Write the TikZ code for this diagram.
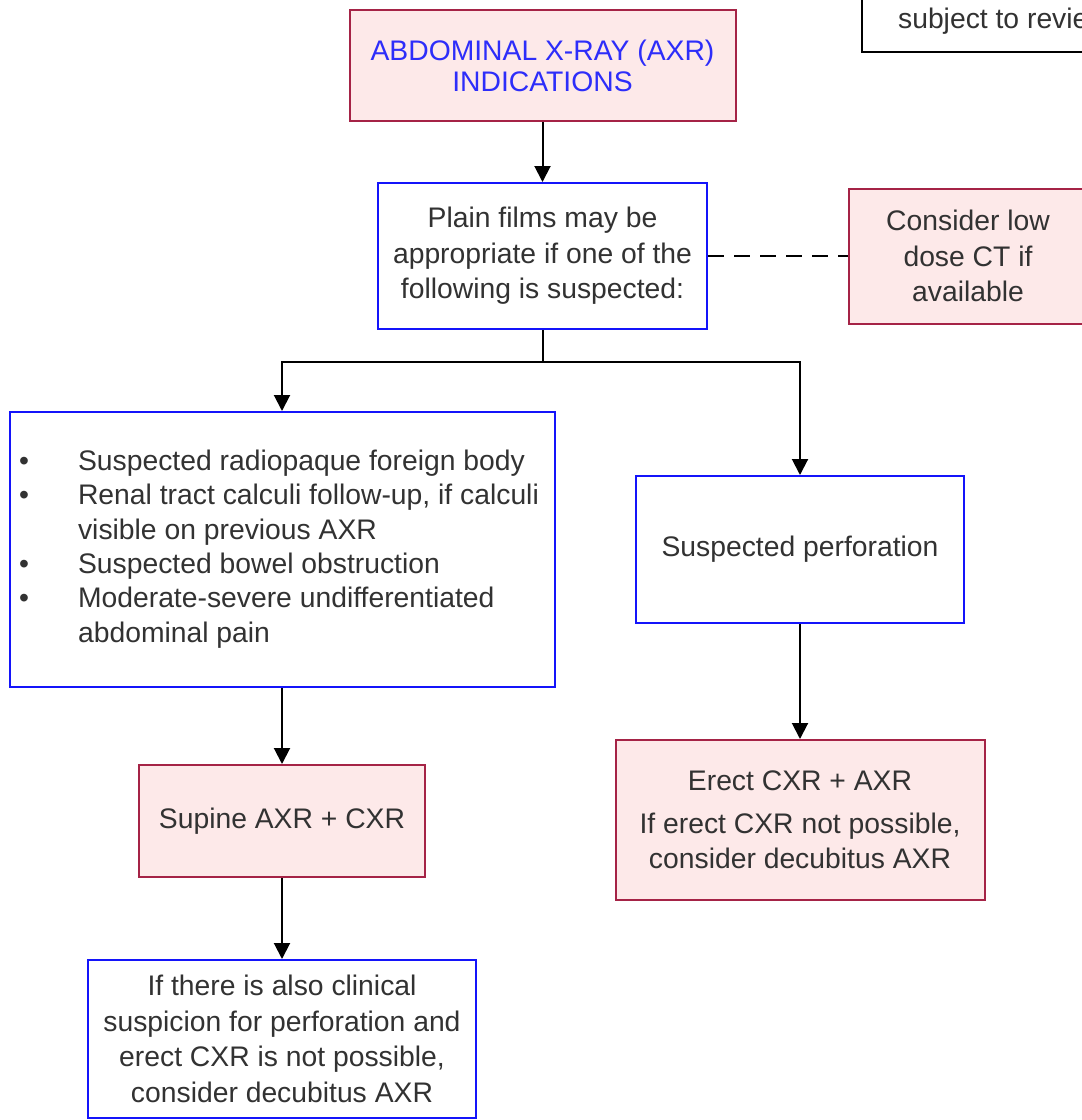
\documentclass[tikz,border=0pt]{standalone}
\usepackage{fontspec}
\setmainfont{Liberation Sans}
\usetikzlibrary{arrows.meta}

\definecolor{boxpink}{RGB}{253,233,233}
\definecolor{boxred}{RGB}{165,35,70}
\definecolor{boxblue}{RGB}{20,20,250}
\definecolor{titleblue}{RGB}{45,45,250}
\definecolor{txtgrey}{RGB}{50,50,50}

\begin{document}
\begin{tikzpicture}[x=1pt, y=-1pt,
        font=\fontsize{28.3}{35.5}\selectfont,
        bluebox/.style={draw=boxblue, line width=2pt, fill=white, inner sep=0pt, align=center, text=txtgrey},
        pinkbox/.style={draw=boxred, line width=2pt, fill=boxpink, inner sep=0pt, align=center, text=txtgrey},
        notebox/.style={draw=black, line width=2pt, fill=white, inner sep=0pt, text=txtgrey},
        arr/.style={line width=2pt, -{Triangle[length=16pt, width=16pt]}},
        link/.style={line width=2pt},
        dashlink/.style={line width=2pt, dash pattern=on 16pt off 10pt}]
        \useasboundingbox (0,0) rectangle (1082,1120);
        \clip (0,0) rectangle (1082,1120);

        % Top row
        \node[pinkbox, minimum width=386pt, minimum height=111pt, text=titleblue,
              font=\fontsize{28.3}{31}\selectfont] (title) at (542.5,65.5) {ABDOMINAL X-RAY (AXR)\\INDICATIONS};
        \node[notebox, minimum width=283pt, minimum height=62pt] (note) at (1003.5,21) {subject to review};

        % Plain films
        \node[bluebox, minimum width=329pt, minimum height=146pt] (plain) at (542.5,256) {Plain films may be\\appropriate if one of the\\following is suspected:};
        \node[pinkbox, minimum width=238pt, minimum height=135pt] (ct) at (968,256) {Consider low\\dose CT if\\available};

        \draw[arr] (title) -- (plain);
        \draw[dashlink] (plain) -- (ct);

        % Left branch
        \node[bluebox, minimum width=545pt, minimum height=275pt, align=left] (list) at (282,549.5) {%
            \fontsize{28.3}{34.4}\selectfont
            \begin{tabular}{@{}p{59pt}@{}l@{}}
                \textbullet & Suspected radiopaque foreign body\\
                \textbullet & Renal tract calculi follow-up, if calculi\\
                            & visible on previous AXR\\
                \textbullet & Suspected bowel obstruction\\
                \textbullet & Moderate-severe undifferentiated\\
                            & abdominal pain
            \end{tabular}\hspace*{6pt}};
        \node[pinkbox, minimum width=286pt, minimum height=112pt] (supine) at (282,821) {Supine AXR + CXR};
        \node[bluebox, minimum width=388pt, minimum height=158pt] (decub) at (282,1039) {If there is also clinical\\suspicion for perforation and\\erect CXR is not possible,\\consider decubitus AXR};

        % Right branch
        \node[bluebox, minimum width=328pt, minimum height=147pt] (perf) at (800,549.5) {Suspected perforation};
        \node[pinkbox, minimum width=369pt, minimum height=160pt] (erect) at (800,820) {Erect CXR + AXR\\[7pt]If erect CXR not possible,\\consider decubitus AXR};

        % Split
        \coordinate (split) at (542.5,362);
        \draw[link] (plain) -- (split);
        \draw[arr] (split) -| (list.north);
        \draw[arr] (split) -| (perf.north);

        \draw[arr] (list) -- (supine);
        \draw[arr] (supine) -- (decub);
        \draw[arr] (perf) -- (erect);
    \end{tikzpicture}
\end{document}
